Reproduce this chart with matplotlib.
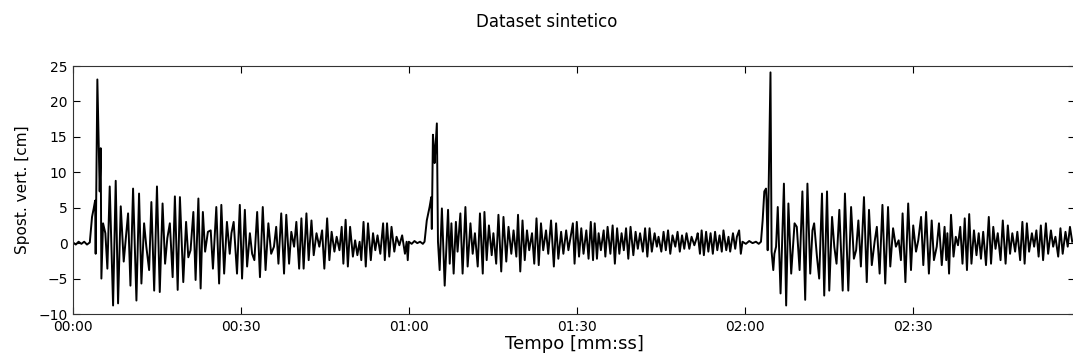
import numpy as np
import matplotlib
matplotlib.use('Agg')
import matplotlib.pyplot as plt
from matplotlib.ticker import FuncFormatter, MultipleLocator

# values (time in seconds, displacement in cm)
t_event1 = [0.0, 0.5, 1.0, 1.5, 2.0, 2.5, 3.0, 3.4, 3.7, 3.95, 4.05, 4.35, 4.77, 4.95, 5.07,
            5.37, 5.78, 6.14, 6.56, 7.16, 7.63, 8.05, 8.53, 9.06, 9.84, 10.26, 10.73, 11.33,
            11.8, 12.22, 12.7, 13.1, 13.6, 14.0, 14.5, 15.0, 15.5, 16.0, 16.45, 16.85, 17.3,
            17.8, 18.2, 18.7, 19.1, 19.7, 20.2, 20.6, 21.0, 21.5, 21.9, 22.4,
            22.8, 23.2, 23.6, 24.1, 24.6, 25.0, 25.6, 26.1, 26.5, 27.0, 27.5, 28.0, 28.3,
            28.7, 29.3, 29.8, 30.2, 30.7, 31.1, 31.6, 32.0, 32.4, 32.9, 33.4, 33.9, 34.4,
            34.9, 35.4, 35.9, 36.3, 36.7, 37.2, 37.7, 38.1, 38.6, 39.0, 39.5, 39.9, 40.4,
            40.8, 41.2, 41.7, 42.1, 42.6, 43.0, 43.5, 44.0, 44.5,
            44.9, 45.4, 45.8, 46.2, 46.7, 47.1, 47.6, 48.0, 48.3, 48.7, 49.1, 49.5, 50.0,
            50.4, 50.8, 51.2, 51.5, 51.9, 52.3, 52.7, 53.2, 53.6, 54.0, 54.4, 54.9, 55.4,
            55.7, 56.1, 56.5, 56.9, 57.4, 57.8, 58.3, 58.8, 59.3, 59.6, 59.8, 60.0, 60.5,
            61.0, 61.5, 62.0, 62.5, 62.8]
y_event1 = [0.1, -0.2, 0.2, -0.1, 0.2, -0.2, 0.1, 3.7, 4.9, 6.0, -1.5, 23.1, 7.3, 13.4, -5.0,
            2.8, 1.4, -3.6, 8.0, -8.8, 8.8, -8.5, 5.2, -2.6, 4.2, -6.0, 7.7, -8.1,
            7.0, -5.7, 2.8, -0.5, -3.8, 5.8, -6.7, 8.0, -6.9, 5.6, -2.9, 0.7, 2.8,
            -4.8, 6.6, -6.6, 6.5, -5.5, 3.0, -2.0, -1.0, 4.4, -5.2, 6.3,
            -6.4, 4.4, -1.2, 1.6, 1.8, -3.6, 5.1, -5.7, 5.4, -4.3, 3.0, -1.5, 1.4,
            3.0, -4.3, 5.4, -5.0, 4.7, -3.3, 1.4, -1.5, -2.4, 4.4, -4.8, 5.1, -3.8,
            2.8, -1.5, -0.5, 2.3, -2.9, 4.2, -4.3, 4.0, -2.9, 1.6, -0.5, 3.0, -3.6,
            3.5, -3.6, 4.2, -2.4, 3.2, -1.7, 1.4, -0.5, 1.8,
            -3.6, 3.5, -2.4, 1.6, -1.2, 0.9, -1.0, 2.3, -2.9, 3.3, -3.3, 2.3, -1.9,
            0.4, -1.7, 0.2, -2.4, 3.0, -3.3, 2.8, -2.4, 1.4, -1.0, 1.1, -1.5, 2.8,
            -2.4, 2.8, -1.9, 2.3, -1.2, 0.9, -0.3, 1.1, -1.5, 0.2, -2.4, 0.2, -0.1,
            0.3, 0.0, 0.2, -0.1, 0.2]

t_event2 = [63.2, 63.7, 64.0, 64.1, 64.3, 64.45, 64.6, 65.0, 65.2, 65.5, 65.9, 66.4,
            67.0, 67.3, 67.6, 68.0, 68.4, 68.7, 69.2, 69.6, 70.1, 70.5, 71.0, 71.4, 71.8,
            72.3, 72.7, 73.2, 73.5, 73.9, 74.3, 74.8, 75.1, 75.6, 76.0, 76.5, 76.9, 77.4,
            77.8, 78.3, 78.7, 79.2, 79.5, 79.9, 80.3, 80.7, 81.1, 81.5, 82.0, 82.4, 82.8,
            83.2, 83.6, 84.0, 84.5, 84.9, 85.4, 85.9, 86.3, 86.7, 87.2, 87.6, 88.1, 88.5,
            89.0, 89.3, 89.6, 90.0, 90.4, 90.8, 91.2, 91.7, 92.1, 92.5, 92.9, 93.2, 93.6,
            93.9, 94.3, 94.8, 95.1, 95.5, 96.0, 96.4, 96.8, 97.2, 97.6, 98.0, 98.4, 98.8,
            99.2, 99.6, 100.1, 100.5, 100.9, 101.3, 101.8, 102.2, 102.6, 103.0, 103.4,
            103.9, 104.3, 104.6, 105.1, 105.5, 105.9, 106.3, 106.7, 107.1, 107.6, 108.0,
            108.4, 108.8, 109.2, 109.6, 110.1, 110.5, 111.0, 111.4, 111.6, 112.0, 112.3,
            112.7, 113.1, 113.5, 113.9, 114.3, 114.7, 115.1, 115.5, 115.9, 116.2, 116.7,
            117.1, 117.4, 117.9, 118.3, 118.6, 119.0, 119.3, 119.6, 120.2, 120.8, 121.4,
            122.0, 122.5, 122.9]
y_event2 = [3.2, 5.1, 6.5, 2.0, 15.3, 13.6, 11.3, 16.9, 0.2, -3.8, 4.9, -6.0,
            4.7, -2.9, 2.8, -4.3, 3.0, -1.2, 4.2, -4.3, 5.1, -3.3, 2.8, -1.5, 1.4,
            -3.3, 4.2, -4.3, 4.4, -2.4, 2.5, -1.7, 1.4, -2.9, 4.0, -4.0, 3.7, -2.6,
            2.3, -1.5, 1.8, -1.9, 4.0, -4.0, 3.2, -2.4, 1.8, -1.0, 1.4, -2.9, 3.5,
            -3.1, 2.8, -1.0, 1.8, -1.5, 3.2, -3.3, 2.8, -2.2, 1.6, -1.5, 1.8, -1.0,
            1.4, 2.8, -2.9, 3.0, -1.9, 2.1, -1.5, 1.8, -2.2, 3.0, -2.4, 2.8, -2.2,
            1.4, -1.0, 1.8, -1.9, 2.3, -1.5, 2.5, -2.9, 2.1, -1.5, 1.4, -1.0, 2.1,
            -2.2, 2.3, -1.7, 1.6, -0.8, 1.4, -1.2, 2.1, -1.9, 2.1, -1.2,
            1.4, -0.5, 0.9, -1.2, 1.6, -1.0, 1.8, -1.5, 1.1, -0.5, 1.6,
            -1.2, 1.1, -0.8, 1.4, -0.8, 0.9, -0.3, 0.7, 1.4, -1.5, 1.8,
            -1.7, 1.6, -1.2, 1.4, -1.5, 1.6, -1.0, 1.1, -1.2, 1.8, -1.0,
            0.9, -1.2, 1.4, -0.8, 0.9, 1.8, -1.5, 0.2, -0.1, 0.3, 0.0,
            0.2, -0.1, 0.2]

t_event3 = [123.2, 123.5, 123.8, 123.9, 124.1, 124.6, 124.8, 125.1, 125.3, 125.6, 125.9,
            126.4, 127.0, 127.4, 127.8, 128.3, 128.9, 129.3, 129.8, 130.3, 130.8, 131.2,
            131.7, 132.1, 132.4, 132.9, 133.3, 133.8, 134.2, 134.7, 135.1, 135.6, 136.0,
            136.4, 136.9, 137.5, 137.9, 138.5, 139.0, 139.5, 139.9, 140.3, 140.75, 141.3,
            141.8, 142.2, 142.7, 143.2, 143.6, 144.1, 144.6, 145.1, 145.6, 146.0, 146.5,
            147.0, 147.5, 147.9, 148.2, 148.7, 149.2, 149.7, 150.1, 150.6, 151.0, 151.5,
            151.9, 152.4, 152.9, 153.4, 153.8, 154.3, 154.7, 155.2, 155.7, 156.0, 156.2,
            156.5, 156.85, 157.3, 157.7, 158.1, 158.5, 158.9, 159.3, 159.7, 160.1, 160.5,
            160.95, 161.4, 161.8, 162.2, 162.6, 163.1, 163.6, 164.0, 164.4, 164.8, 165.2,
            165.7, 166.1, 166.6, 167.0, 167.4, 167.8, 168.3, 168.7, 169.2, 169.6, 170.0,
            170.4, 170.8, 171.3, 171.7, 172.1, 172.5, 172.9, 173.3, 173.8, 174.2, 174.7,
            175.1, 175.5, 176.0, 176.4, 176.8, 177.3, 177.7, 178.1, 178.5]
y_event3 = [3.2, 7.3, 7.7, 6.0, -1.0, 24.1, -1.2, -3.8, -1.5, -0.5, 5.1,
            -7.1, 8.4, -8.8, 5.6, -4.3, 2.8, 2.3, -3.8, 7.3, -8.0, 8.4,
            -4.3, 1.8, 2.8, -1.9, -5.0, 7.0, -7.4, 7.3, -6.7, 3.7, -0.5,
            -2.9, 4.7, -6.7, 7.0, -6.7, 5.1, -2.2, -1.0, 3.2, -3.3, 6.5,
            -5.5, 4.7, -3.1, 0.2, 2.3, -4.3, 5.4, -5.7, 5.1, -3.3, 2.1,
            -0.5, 0.4, -2.4, 4.2, -5.5, 5.6, -3.8, 2.5, -1.2, 0.4, 3.7,
            -3.1, 4.4, -4.3, 3.2, -2.4, -0.5, 2.8, -3.1, 2.3, -2.4, 1.4,
            -4.3, 4.0, -1.9, 0.9, -0.3, 2.3, -2.9, 3.5, -3.8, 4.1, -2.9,
            1.8, -1.7, 1.4, -2.2, 1.6, -3.1, 3.7, -2.9, 2.3, -0.8, 1.4,
            -2.4, 3.2, -2.9, 2.5, -1.5, 1.4, -1.2, 1.6, -2.4, 3.0, -2.9,
            2.8, -1.2, 1.4, -0.5, 1.8, -1.9, 2.5, -2.4, 2.8, -1.5, 1.8,
            -0.5, 0.9, -1.9, 2.1, -1.5, 1.6, -0.5, 2.3, 0.2]

time_s = np.array(t_event1 + t_event2 + t_event3)
disp_cm = np.array(y_event1 + y_event2 + y_event3)

W, H = 1073, 358
fig = plt.figure(figsize=(W / 100, H / 100), dpi=100, facecolor='white')
ax = fig.add_axes([73 / W, 1 - 314 / H, (1075 - 73) / W, (314 - 66) / H])

ax.plot(time_s, disp_cm, color='black', linewidth=1.4)

ax.set_xlim(0, 179)
ax.set_ylim(-10, 25)
ax.xaxis.set_major_locator(MultipleLocator(30))
ax.yaxis.set_major_locator(MultipleLocator(5))
ax.xaxis.set_major_formatter(FuncFormatter(lambda s, p: '%02d:%02d' % (int(s // 60), int(s % 60))))
ax.tick_params(direction='in', top=True, right=True, length=5, width=0.8,
               labelsize=10, pad=4)
for sp in ax.spines.values():
    sp.set_color('#333333')

ax.set_xlabel('Tempo [mm:ss]', fontsize=13, labelpad=1)
ax.set_ylabel('Spost. vert. [cm]', fontsize=11, labelpad=6)
fig.text(547 / W, 1 - 22 / H, 'Dataset sintetico', ha='center', va='center', fontsize=12)

fig.savefig('out.png', dpi=100, facecolor='white')
